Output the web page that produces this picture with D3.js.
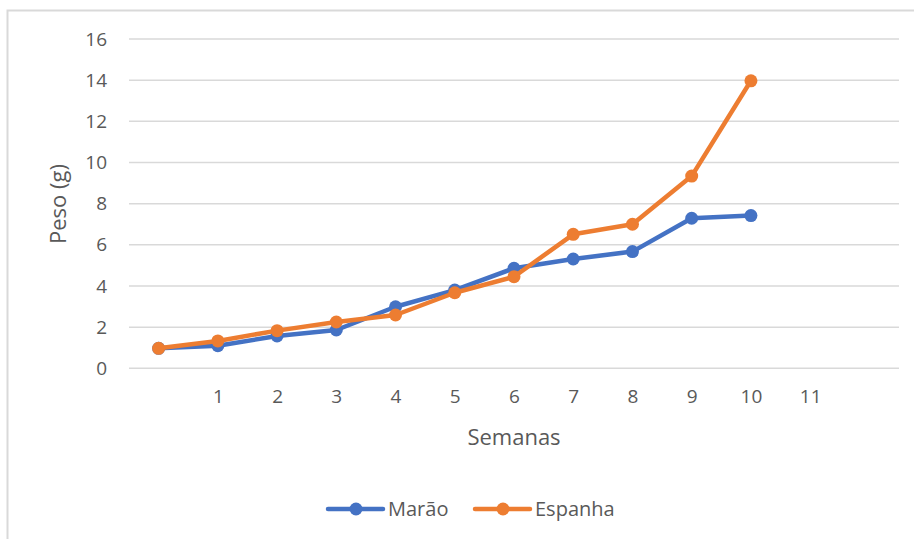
<!DOCTYPE html>
<html>
<head>
<meta charset="utf-8">
<style>
  body { margin: 0; background: #fff; }
  text { font-family: "Open Sans", sans-serif; fill: #595959; }
  .grid line { stroke: #d9d9d9; stroke-width: 1.5px; }
  .serie { fill: none; stroke-width: 4.5px; stroke-linejoin: round; stroke-linecap: round; }
</style>
</head>
<body>
<svg id="chart"></svg>
<script src="https://cdnjs.cloudflare.com/ajax/libs/d3/7.8.5/d3.min.js"></script>
<script>
  // semanas (0 e 12 ficam sem rótulo)
  var weeks = [0, 1, 2, 3, 4, 5, 6, 7, 8, 9, 10, 11, 12];
  var weekLabels = ["", "1", "2", "3", "4", "5", "6", "7", "8", "9", "10", "11", ""];
  var dataWeeks = [0, 1, 2, 3, 4, 5, 6, 7, 8, 9, 10];
  var marao = [0.97, 1.1, 1.57, 1.86, 2.99, 3.8, 4.86, 5.31, 5.67, 7.29, 7.42];
  var espanha = [0.97, 1.33, 1.83, 2.25, 2.59, 3.67, 4.45, 6.51, 7.0, 9.34, 13.97];
  var yTicks = [0, 2, 4, 6, 8, 10, 12, 14, 16];

  var series = [
    { name: "Marão", values: marao, color: "#4472C4" },
    { name: "Espanha", values: espanha, color: "#ED7D31" }
  ];

  var width = 914, height = 539;
  var svg = d3.select('#chart').attr('width', width).attr('height', height);

  // moldura do gráfico (cortada à direita e em baixo)
  svg.append('path')
    .attr('d', 'M7.5,' + height + 'V10.5H' + width)
    .attr('fill', 'none')
    .attr('stroke', '#d9d9d9')
    .attr('stroke-width', 2);

  var x = d3.scalePoint().domain(weeks).range([129, 899]).padding(0.5);
  var y = d3.scaleLinear().domain([0, 16]).range([368.3, 39]);

  // grelha horizontal
  svg.append('g').attr('class', 'grid')
    .selectAll('line').data(yTicks).enter().append('line')
    .attr('x1', 129).attr('x2', 899)
    .attr('y1', function(d) { return y(d); })
    .attr('y2', function(d) { return y(d); });

  // eixo y
  var yAxis = d3.axisLeft(y).tickValues(yTicks).tickSize(0).tickPadding(22);
  svg.append('g').attr('transform', 'translate(129,0)').call(yAxis)
    .call(function(g) { g.select('.domain').remove(); })
    .selectAll('text').style('font-size', '19px').attr('fill', '#595959')
    .style('font-family', '"Open Sans", sans-serif');

  // eixo x
  var xAxis = d3.axisBottom(x).tickSize(0).tickPadding(21)
    .tickFormat(function(d, i) { return weekLabels[i]; });
  svg.append('g').attr('transform', 'translate(0,368.3)').call(xAxis)
    .call(function(g) { g.select('.domain').remove(); })
    .selectAll('text').style('font-size', '19px').attr('fill', '#595959')
    .style('font-family', '"Open Sans", sans-serif');

  // títulos dos eixos
  svg.append('text').attr('x', 514).attr('y', 445)
    .attr('text-anchor', 'middle').style('font-size', '22px').text('Semanas');
  svg.append('text')
    .attr('transform', 'translate(66,204) rotate(-90)')
    .attr('text-anchor', 'middle').style('font-size', '22px').text('Peso (g)');

  // linhas e marcadores
  var line = d3.line()
    .x(function(d, i) { return x(dataWeeks[i]); })
    .y(function(d) { return y(d); });

  series.forEach(function(s) {
    svg.append('path').datum(s.values)
      .attr('class', 'serie')
      .attr('stroke', s.color)
      .attr('d', line);
    svg.append('g').selectAll('circle').data(s.values).enter().append('circle')
      .attr('cx', function(d, i) { return x(dataWeeks[i]); })
      .attr('cy', function(d) { return y(d); })
      .attr('r', 6.5)
      .attr('fill', s.color);
  });

  // legenda
  var legendX = [328, 475];
  var legend = svg.append('g');
  series.forEach(function(s, i) {
    var g = legend.append('g').attr('transform', 'translate(' + legendX[i] + ',509)');
    g.append('line').attr('x1', 0).attr('x2', 55)
      .attr('stroke', s.color).attr('stroke-width', 4.5).attr('stroke-linecap', 'round');
    g.append('circle').attr('cx', 28).attr('r', 6.5).attr('fill', s.color);
    g.append('text').attr('x', 60).attr('dy', '0.35em')
      .style('font-size', '20px').text(s.name);
  });
</script>
</body>
</html>
